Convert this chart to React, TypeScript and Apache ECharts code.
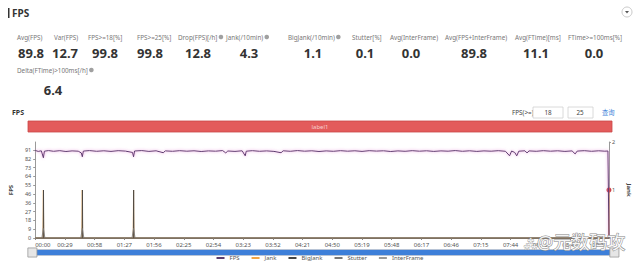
import React, { useEffect, useRef } from 'react';
import * as echarts from 'echarts';

// ---------- data ----------
const metricLabels = [
  'Avg(FPS)', 'Var(FPS)', 'FPS>=18[%]', 'FPS>=25[%]', 'Drop(FPS)[/h]', 'Jank(/10min)',
  'BigJank(/10min)', 'Stutter[%]', 'Avg(InterFrame)', 'Avg(FPS+InterFrame)', 'Avg(FTime)[ms]', 'FTime>=100ms[%]',
];
const metricValues = ['89.8', '12.7', '99.8', '99.8', '12.8', '4.3', '1.1', '0.1', '0.0', '89.8', '11.1', '0.0'];
const metricInfo = [false, false, false, false, true, true, true, false, false, false, false, false];
const extraLabel = 'Delta(FTime)>100ms[/h]';
const extraValue = '6.4';

const fpsTicks = [0, 9.1, 18.2, 27.3, 36.4, 45.5, 54.6, 63.7, 72.8, 81.9, 91];
const jankTickLabels = ['', '1', '2'];
const legendNames = ['FPS', 'Jank', 'BigJank', 'Stutter', 'InterFrame'];
const thresholds = ['18', '25'];

// [seconds, fps]
const fpsData = [
  [0, 90.5], [3, 89.6], [6, 90.2], [8, 83], [9, 89.8], [13, 90.4], [18, 89.7], [24, 90.3], [30, 89.5],
  [36, 90.1], [42, 89.8], [45, 88], [46, 84], [47, 89.9], [53, 90.4], [60, 89.7], [67, 90.2], [74, 89.6],
  [81, 90.3], [88, 89.9], [95, 88.5], [96, 84], [97, 90], [104, 90.4], [111, 89.6], [118, 90.2],
  [125, 88.2], [127, 90.1], [134, 89.7], [141, 90.3], [148, 89.8], [155, 90.2], [162, 89.5], [169, 90.1],
  [176, 89.8], [183, 90.4], [186, 88], [188, 90], [195, 89.6], [202, 90.2], [205, 85], [206, 89.8],
  [212, 90.3], [219, 89.7], [226, 90.1], [233, 89.6], [240, 88.2], [242, 90.2], [249, 89.7], [256, 90.4],
  [263, 89.8], [270, 90.2], [277, 89.5], [284, 90.1], [291, 89.7], [298, 90.3], [305, 89.8], [312, 90.2],
  [319, 89.6], [326, 90.3], [333, 89.9], [340, 90.2], [347, 89.5], [354, 90.1], [361, 89.7], [368, 90.3],
  [375, 89.8], [382, 90.2], [389, 89.6], [396, 90.1], [403, 89.8], [410, 90.4], [417, 89.7], [424, 90.2],
  [431, 89.6], [438, 90.1], [445, 89.8], [452, 90.3], [459, 89.7], [463, 85], [465, 90], [468, 88.5],
  [470, 85], [472, 89.8], [478, 90.2], [480, 88], [482, 90.1], [489, 89.7], [496, 90.3], [503, 89.8],
  [510, 90.2], [517, 89.6], [524, 90.1], [527, 87], [529, 89.9], [536, 90.3], [543, 89.7], [550, 90.2],
  [556, 89.8], [559, 90], [560, 0],
];
const jankData = [
  [0, 0], [7.7, 0], [8, 1], [8.3, 0], [45.7, 0], [46, 1], [46.3, 0], [95.7, 0], [96, 1], [96.3, 0], [559.7, 0], [560, 1],
];
const bigJankData = [
  [0, 0], [7.8, 0], [8.1, 1], [8.4, 0], [45.8, 0], [46.1, 1], [46.4, 0], [95.8, 0], [96.1, 1], [96.4, 0], [560, 0],
];
const stutterData = [
  [0, 0], [6.5, 0], [8, 0.2], [9.5, 0], [44.5, 0], [46, 0.2], [47.5, 0], [94.5, 0], [96, 0.2], [97.5, 0], [560, 0],
];
const interFrameData = [[0, 0], [560, 0]];

// ---------- layout ----------
const labelX = [17, 54, 88, 137, 178, 226, 288, 352, 390, 445, 515, 568];
const valueX = [31, 65, 105, 150, 198, 249, 313, 365, 411, 474, 536, 594];
const seriesColors = ['#5a3d6e', '#f2a444', '#444444', '#777777', '#999999'];
const FONT = '"Noto Sans", "Noto Sans CJK SC", sans-serif';
const LABEL_FONT = `6.3px ${FONT}`;

const mmss = (v: number) => {
  const m = Math.floor(v / 60);
  const s = Math.round(v % 60);
  return `${String(m).padStart(2, '0')}:${String(s).padStart(2, '0')}`;
};

let measureCtx: CanvasRenderingContext2D | null = null;
const textWidth = (t: string, font: string) => {
  if (!measureCtx) measureCtx = document.createElement('canvas').getContext('2d');
  if (!measureCtx) return t.length * 3.5;
  measureCtx.font = font;
  return measureCtx.measureText(t).width;
};

export default function App() {
  const ref = useRef<HTMLDivElement>(null);
  useEffect(() => {
    if (!ref.current) return;
    const chart = echarts.init(ref.current, null, { renderer: 'svg' });

    const graphics: any[] = [];
    // title
    graphics.push({ type: 'rect', shape: { x: 8, y: 8, width: 1.5, height: 10 }, style: { fill: '#333' } });
    graphics.push({ type: 'text', x: 12, y: 13, style: { text: 'FPS', font: `bold 10px ${FONT}`, fill: '#333', verticalAlign: 'middle' } });
    graphics.push({ type: 'circle', shape: { cx: 627, cy: 12, r: 5 }, style: { fill: '#fff', stroke: '#bbb', lineWidth: 0.8 } });
    graphics.push({ type: 'polygon', shape: { points: [[625, 11], [629, 11], [627, 13.5]] }, style: { fill: '#555' } });
    // metrics
    metricLabels.forEach((l, i) => {
      graphics.push({ type: 'text', x: labelX[i], y: 37, style: { text: l, font: LABEL_FONT, fill: '#777', verticalAlign: 'middle' } });
      if (metricInfo[i]) {
        const ix = labelX[i] + textWidth(l, LABEL_FONT) + 3.5;
        graphics.push({ type: 'circle', shape: { cx: ix, cy: 37, r: 2.3 }, style: { fill: '#a0a0a0' } });
      }
      graphics.push({ type: 'text', x: valueX[i], y: 53, style: { text: metricValues[i], font: `bold 13px ${FONT}`, fill: '#333', align: 'center', verticalAlign: 'middle' } });
    });
    graphics.push({ type: 'text', x: 17, y: 70, style: { text: extraLabel, font: LABEL_FONT, fill: '#777', verticalAlign: 'middle' } });
    graphics.push({ type: 'circle', shape: { cx: 17 + textWidth(extraLabel, LABEL_FONT) + 3.5, cy: 70, r: 2.3 }, style: { fill: '#a0a0a0' } });
    graphics.push({ type: 'text', x: 53, y: 90, style: { text: extraValue, font: `bold 13px ${FONT}`, fill: '#333', align: 'center', verticalAlign: 'middle' } });
    // chart header
    graphics.push({ type: 'text', x: 12, y: 112, style: { text: 'FPS', font: `bold 7px ${FONT}`, fill: '#333', verticalAlign: 'middle' } });
    graphics.push({ type: 'text', x: 512, y: 112.5, style: { text: 'FPS(>=)', font: `6.3px ${FONT}`, fill: '#444', verticalAlign: 'middle' } });
    graphics.push({ type: 'rect', shape: { x: 533, y: 107, width: 30, height: 11 }, style: { fill: '#fff', stroke: '#d0d0d0', lineWidth: 0.8 } });
    graphics.push({ type: 'text', x: 548, y: 112.5, style: { text: thresholds[0], font: `6.3px ${FONT}`, fill: '#444', align: 'center', verticalAlign: 'middle' } });
    graphics.push({ type: 'rect', shape: { x: 568, y: 107, width: 25, height: 11 }, style: { fill: '#fff', stroke: '#d0d0d0', lineWidth: 0.8 } });
    graphics.push({ type: 'text', x: 580, y: 112.5, style: { text: thresholds[1], font: `6.3px ${FONT}`, fill: '#444', align: 'center', verticalAlign: 'middle' } });
    graphics.push({ type: 'text', x: 602, y: 112.5, style: { text: '查询', font: `6.3px ${FONT}`, fill: '#3d7fd9', verticalAlign: 'middle' } });
    // red label bar
    graphics.push({ type: 'rect', shape: { x: 28, y: 121, width: 584, height: 11 }, style: { fill: '#e35b5b', stroke: '#c94848', lineWidth: 0.8 } });
    graphics.push({ type: 'text', x: 320, y: 126.5, style: { text: 'label1', font: `6px ${FONT}`, fill: 'rgba(255,255,255,0.7)', align: 'center', verticalAlign: 'middle' } });
    // watermark
    graphics.push({ type: 'text', x: 524, y: 243, z: 100, style: { text: '⁂', font: `12px ${FONT}`, fill: 'rgba(255,255,255,0.9)', stroke: '#999', lineWidth: 0.8, verticalAlign: 'middle' } });
    graphics.push({ type: 'text', x: 537, y: 242, z: 100, style: { text: '@元数码攻', font: `18px ${FONT}`, fill: 'rgba(255,255,255,0.92)', stroke: '#8a8a8a', lineWidth: 1, verticalAlign: 'middle' } });

    const lineBase = { type: 'line', showSymbol: false, symbol: 'none', animation: false };

    chart.setOption({
      animation: false,
      backgroundColor: '#fff',
      textStyle: { fontFamily: FONT },
      color: seriesColors,
      graphic: graphics,
      grid: { left: 28, right: 28, top: 142, bottom: 29 },
      legend: {
        data: legendNames,
        bottom: 1,
        left: 'center',
        icon: 'rect',
        itemWidth: 8,
        itemHeight: 2,
        itemGap: 12,
        textStyle: { fontSize: 6, color: '#555' },
      },
      xAxis: {
        type: 'value',
        min: 0,
        max: 560,
        interval: 29,
        splitLine: { show: false },
        axisLine: { lineStyle: { color: '#666' } },
        axisTick: { show: true, length: 2, lineStyle: { color: '#888' } },
        axisLabel: { fontSize: 6, color: '#555', margin: 4, formatter: (v: number) => mmss(v), showMaxLabel: false, alignMinLabel: 'left' },
      },
      yAxis: [
        {
          type: 'value',
          min: 0,
          max: 99.3,
          name: 'FPS',
          nameLocation: 'middle',
          nameGap: 14,
          nameRotate: 90,
          nameTextStyle: { fontSize: 6, fontWeight: 'bold', color: '#444' },
          splitLine: { show: false },
          axisLine: { show: true, lineStyle: { color: '#999' } },
          axisTick: { show: true, length: 2, customValues: fpsTicks, lineStyle: { color: '#999' } },
          axisLabel: { fontSize: 5.5, color: '#555', margin: 4, customValues: fpsTicks, formatter: (v: number) => String(Math.round(v)) },
        },
        {
          type: 'value',
          min: 0,
          max: 2,
          interval: 1,
          name: 'Jank',
          nameLocation: 'middle',
          nameGap: 10,
          nameRotate: -90,
          nameTextStyle: { fontSize: 6, fontWeight: 'bold', color: '#444' },
          splitLine: { show: false },
          axisLine: { show: true, lineStyle: { color: '#999' } },
          axisTick: { show: true, length: 2, lineStyle: { color: '#999' } },
          axisLabel: { fontSize: 5.5, color: '#555', margin: 3, formatter: (v: number) => jankTickLabels[Math.round(v)] ?? '' },
        },
      ],
      dataZoom: [
        {
          type: 'slider',
          xAxisIndex: 0,
          filterMode: 'none',
          start: 0,
          end: 100,
          left: 30,
          right: 26,
          bottom: 11,
          height: 7,
          showDetail: false,
          showDataShadow: false,
          brushSelect: false,
          moveHandleSize: 0,
          fillerColor: '#3d7fd9',
          backgroundColor: '#e8eef8',
          borderColor: '#b8c4d6',
          handleIcon: 'path://M0,0 H10 V10 H0 Z',
          handleSize: '130%',
          handleStyle: { color: '#e6e6e6', borderColor: '#999', borderWidth: 0.8 },
          dataBackground: { lineStyle: { opacity: 0 }, areaStyle: { opacity: 0 } },
        },
      ],
      series: [
        {
          ...lineBase,
          name: 'FPS',
          yAxisIndex: 0,
          data: fpsData,
          z: 5,
          lineStyle: { width: 1, color: seriesColors[0], shadowColor: 'rgba(225,120,210,0.8)', shadowBlur: 3 },
          itemStyle: { color: seriesColors[0] },
        },
        {
          ...lineBase,
          name: 'Jank',
          yAxisIndex: 1,
          data: jankData,
          z: 3,
          lineStyle: { width: 1, color: seriesColors[1] },
          itemStyle: { color: seriesColors[1] },
          markPoint: {
            symbol: 'circle',
            symbolSize: 5,
            label: { show: false },
            itemStyle: { color: '#c9404a' },
            data: [{ coord: jankData[jankData.length - 1] }],
          },
        },
        {
          ...lineBase,
          name: 'BigJank',
          yAxisIndex: 1,
          data: bigJankData,
          z: 4,
          lineStyle: { width: 0.8, color: seriesColors[2] },
          itemStyle: { color: seriesColors[2] },
        },
        {
          ...lineBase,
          name: 'Stutter',
          yAxisIndex: 1,
          data: stutterData,
          z: 4,
          lineStyle: { width: 0.8, color: seriesColors[3] },
          itemStyle: { color: seriesColors[3] },
        },
        {
          ...lineBase,
          name: 'InterFrame',
          yAxisIndex: 0,
          data: interFrameData,
          z: 2,
          lineStyle: { width: 0.8, color: seriesColors[4] },
          itemStyle: { color: seriesColors[4] },
        },
      ],
    } as any);
    return () => chart.dispose();
  }, []);

  return (
    <div
      ref={ref}
      style={{ position: 'fixed', left: 0, top: 0, width: 640, height: 267, background: '#fff' }}
    />
  );
}
